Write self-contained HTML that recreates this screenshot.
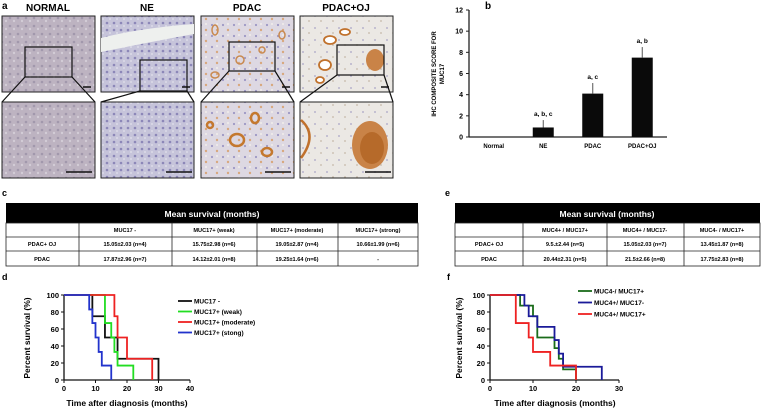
<!DOCTYPE html>
<html><head><meta charset="utf-8"><style>
body{margin:0;background:#fff;}
svg{display:block;font-family:"Liberation Sans",Arial,sans-serif;}
</style></head><body>
<svg width="762" height="413" viewBox="0 0 762 413" xmlns="http://www.w3.org/2000/svg">
<defs>
<pattern id="pN" width="8" height="8" patternUnits="userSpaceOnUse"><rect width="8" height="8" fill="#bdb3c1"/><circle cx="2" cy="2" r="1.3" fill="#a198ac"/><circle cx="6" cy="5" r="1.2" fill="#d3ccd6"/></pattern>
<pattern id="pNE" width="7" height="7" patternUnits="userSpaceOnUse"><rect width="7" height="7" fill="#c6c4da"/><circle cx="2" cy="2" r="1.3" fill="#8c87b8"/><circle cx="5" cy="5" r="1" fill="#dcdbe8"/></pattern>
<pattern id="pP" width="11" height="11" patternUnits="userSpaceOnUse"><rect width="11" height="11" fill="#ddd8e2"/><circle cx="3" cy="3" r="1.1" fill="#9d98c4"/><circle cx="8" cy="8" r="1.2" fill="#d8a87e"/><circle cx="8" cy="2" r="1" fill="#f2eeea"/></pattern>
<pattern id="pO" width="12" height="12" patternUnits="userSpaceOnUse"><rect width="12" height="12" fill="#ebe8e4"/><circle cx="3" cy="4" r="1" fill="#b7b3cc"/><circle cx="9" cy="9" r="0.9" fill="#c5b8a8"/></pattern>
</defs>

<!-- panel a -->
<g>
<text x="2" y="9" font-size="10" font-weight="bold">a</text>
<g font-size="10" font-weight="bold" text-anchor="middle">
<text x="48" y="11">NORMAL</text>
<text x="147" y="11">NE</text>
<text x="247" y="11">PDAC</text>
<text x="346" y="11">PDAC+OJ</text>
</g>
<rect x="2" y="16" width="93" height="76" fill="url(#pN)" stroke="#222"/>
<rect x="2" y="102" width="93" height="76" fill="url(#pN)" stroke="#222"/>
<rect x="101" y="16" width="93" height="76" fill="url(#pNE)" stroke="#222"/>
<path d="M101 38 Q140 28 194 24 L194 34 Q150 42 101 52Z" fill="#eef0ee"/>
<rect x="101" y="102" width="93" height="76" fill="url(#pNE)" stroke="#222"/>
<rect x="201" y="16" width="93" height="76" fill="url(#pP)" stroke="#222"/>
<g fill="none" stroke="#c98a50" stroke-width="1.5"><ellipse cx="215" cy="30" rx="3" ry="5"/><ellipse cx="240" cy="60" rx="4" ry="4"/><ellipse cx="262" cy="50" rx="3" ry="3"/><ellipse cx="282" cy="35" rx="3" ry="4"/><ellipse cx="215" cy="75" rx="4" ry="3"/></g>
<rect x="201" y="102" width="93" height="76" fill="url(#pP)" stroke="#222"/>
<g fill="none" stroke="#c4782e" stroke-width="2.5"><ellipse cx="237" cy="140" rx="7" ry="6"/><ellipse cx="267" cy="152" rx="5" ry="4"/><ellipse cx="255" cy="118" rx="4" ry="5"/><ellipse cx="210" cy="125" rx="3" ry="3"/></g>
<rect x="300" y="16" width="93" height="76" fill="url(#pO)" stroke="#222"/>
<g fill="#fff" stroke="#c0712c" stroke-width="1.8"><ellipse cx="330" cy="40" rx="6" ry="4"/><ellipse cx="325" cy="65" rx="6" ry="5"/><ellipse cx="345" cy="32" rx="5" ry="3"/><ellipse cx="320" cy="80" rx="4" ry="3"/></g>
<ellipse cx="375" cy="60" rx="9" ry="11" fill="#c98347"/>
<rect x="300" y="102" width="93" height="76" fill="url(#pO)" stroke="#222"/>
<ellipse cx="370" cy="145" rx="18" ry="24" fill="#c98347"/><ellipse cx="372" cy="148" rx="12" ry="16" fill="#b66a2a"/>
<path d="M301 120 Q318 135 301 158" fill="none" stroke="#c0712c" stroke-width="2.5"/>
<g fill="none" stroke="#111" stroke-width="1.2">
<rect x="25" y="47" width="47" height="30"/><line x1="25" y1="77" x2="2" y2="102"/><line x1="72" y1="77" x2="95" y2="102"/>
<rect x="140" y="60" width="47" height="31"/><line x1="140" y1="91" x2="101" y2="102"/><line x1="187" y1="91" x2="194" y2="102"/>
<rect x="229" y="42" width="46" height="29"/><line x1="229" y1="71" x2="201" y2="102"/><line x1="275" y1="71" x2="294" y2="102"/>
<rect x="337" y="45" width="47" height="30"/><line x1="337" y1="75" x2="300" y2="102"/><line x1="384" y1="75" x2="393" y2="102"/>
</g>
<g stroke="#111" stroke-width="1.5">
<line x1="83" y1="87" x2="91" y2="87"/><line x1="182" y1="87" x2="190" y2="87"/><line x1="282" y1="87" x2="290" y2="87"/><line x1="381" y1="87" x2="389" y2="87"/>
<line x1="66" y1="172" x2="92" y2="172"/><line x1="166" y1="172" x2="192" y2="172"/><line x1="265" y1="172" x2="291" y2="172"/><line x1="365" y1="172" x2="391" y2="172"/>
</g>
</g>

<!-- panel b -->
<g id="bar-chart">
<text x="485" y="9" font-size="10" font-weight="bold">b</text>
<g transform="translate(436,74) rotate(-90)" font-size="6" font-weight="bold" text-anchor="middle">
<text x="0" y="0">IHC COMPOSITE SCORE FOR</text><text x="0" y="8">MUC17</text></g>
<g id="b-axes"></g><g id="b-bars"></g>
</g>

<!-- table c -->
<g font-size="5.6" font-weight="bold" text-anchor="middle">
<text x="2" y="196" font-size="9" text-anchor="start">c</text>
<rect x="6" y="203" width="412" height="20" fill="#000"/>
<text x="212" y="217" fill="#fff" font-size="8.5">Mean survival (months)</text>
<g fill="none" stroke="#222" stroke-width="0.8"><rect x="6" y="223" width="412" height="43"/>
<line x1="6" y1="237" x2="418" y2="237"/><line x1="6" y1="251" x2="418" y2="251"/>
<line x1="79" y1="223" x2="79" y2="266"/><line x1="172" y1="223" x2="172" y2="266"/><line x1="257" y1="223" x2="257" y2="266"/><line x1="338" y1="223" x2="338" y2="266"/></g>
<text x="125" y="232">MUC17 -</text><text x="214" y="232">MUC17+ (weak)</text><text x="297" y="232">MUC17+ (moderate)</text><text x="378" y="232">MUC17+ (strong)</text>
<text x="42" y="246">PDAC+ OJ</text><text x="125" y="246">15.05±2.03 (n=4)</text><text x="214" y="246">15.75±2.98 (n=6)</text><text x="297" y="246">19.05±2.87 (n=4)</text><text x="378" y="246">10.66±1.99 (n=6)</text>
<text x="42" y="261">PDAC</text><text x="125" y="261">17.87±2.96 (n=7)</text><text x="214" y="261">14.12±2.01 (n=8)</text><text x="297" y="261">19.25±1.64 (n=6)</text><text x="378" y="261">-</text>
</g>

<!-- table e -->
<g font-size="5.6" font-weight="bold" text-anchor="middle">
<text x="445" y="196" font-size="9" text-anchor="start">e</text>
<rect x="455" y="203" width="305" height="20" fill="#000"/>
<text x="607" y="217" fill="#fff" font-size="8.5">Mean survival (months)</text>
<g fill="none" stroke="#222" stroke-width="0.8"><rect x="455" y="223" width="305" height="43"/>
<line x1="455" y1="237" x2="760" y2="237"/><line x1="455" y1="251" x2="760" y2="251"/>
<line x1="523" y1="223" x2="523" y2="266"/><line x1="607" y1="223" x2="607" y2="266"/><line x1="684" y1="223" x2="684" y2="266"/></g>
<text x="565" y="232">MUC4+ / MUC17+</text><text x="645" y="232">MUC4+ / MUC17-</text><text x="722" y="232">MUC4- / MUC17+</text>
<text x="489" y="246">PDAC+ OJ</text><text x="565" y="246">9.5.±2.44  (n=5)</text><text x="645" y="246">15.05±2.03 (n=7)</text><text x="722" y="246">13.45±1.87 (n=8)</text>
<text x="489" y="261">PDAC</text><text x="565" y="261">20.44±2.31 (n=5)</text><text x="645" y="261">21.5±2.66 (n=8)</text><text x="722" y="261">17.75±2.83 (n=8)</text>
</g>

<!-- panel d -->
<g>
<text x="2" y="280" font-size="9" font-weight="bold">d</text>
<text transform="translate(30,338) rotate(-90)" font-size="8.5" font-weight="bold" text-anchor="middle">Percent survival (%)</text>
<text x="127" y="406" font-size="8.5" font-weight="bold" text-anchor="middle">Time after diagnosis (months)</text>
<g id="d-plot"></g>
</g>
<!-- panel f -->
<g>
<text x="447" y="280" font-size="9" font-weight="bold">f</text>
<text transform="translate(462,338) rotate(-90)" font-size="8.5" font-weight="bold" text-anchor="middle">Percent survival (%)</text>
<text x="555" y="406" font-size="8.5" font-weight="bold" text-anchor="middle">Time after diagnosis (months)</text>
<g id="f-plot"></g>
</g>
</svg>
<script>
const NS="http://www.w3.org/2000/svg";
// bar chart data
const barCategories=["Normal","NE","PDAC","PDAC+OJ"];
const barValues=[0,0.9,4.1,7.5];
const barErrors=[0,0.7,1.0,1.0];
const barLetters=["","a, b, c","a, c","a, b"];
const barTicks=[0,2,4,6,8,10,12];
// survival d
const dNames=["MUC17 -","MUC17+ (weak)","MUC17+ (moderate)","MUC17+ (stong)"];
const dTimes=[[0,9,13,17,30],[0,13,15,16,17,22],[0,16,17,20,28],[0,8,9,10,11,12,15]];
const dSurv=[[100,75,50,25,0],[100,67,50,33,17,0],[100,75,50,25,0],[100,83,67,50,33,17,0]];
const dXTicks=[0,10,20,30,40];
// survival f
const fNames=["MUC4-/ MUC17+","MUC4+/ MUC17-","MUC4+/ MUC17+"];
const fTimes=[[0,7,10,11,15,16,17,20],[0,8,9,11,15,16,17,26],[0,6,9,10,14,20]];
const fSurv=[[100,87.5,75,50,37.5,25,12.5,0],[100,87.5,75,62.5,47,31,15.6,0],[100,67,50,33,17,0]];
const fXTicks=[0,10,20,30];
const yTicks=[0,20,40,60,80,100];

function el(tag,attrs,parent,text){const e=document.createElementNS(NS,tag);for(const k in attrs)e.setAttribute(k,attrs[k]);if(text!==undefined)e.textContent=text;parent.appendChild(e);return e;}

// bar chart
(function(){
 const ax=document.getElementById("b-axes"),bg=document.getElementById("b-bars");
 const x0=469,x1=667,y0=137,y1=10,max=12;
 const ys=v=>y0-(v/max)*(y0-y1);
 const band=(x1-x0)/barCategories.length;
 const xc=i=>x0+band*(i+0.5);
 el("line",{x1:x0,y1:y0,x2:x0,y2:y1,stroke:"#222","stroke-width":1.3},ax);
 el("line",{x1:x0,y1:y0,x2:x1,y2:y0,stroke:"#222","stroke-width":1.3},ax);
 barTicks.forEach(t=>{
  el("line",{x1:x0-3,y1:ys(t),x2:x0,y2:ys(t),stroke:"#222"},ax);
  const tx=el("text",{x:x0-6,y:ys(t)+2.5,"font-size":7,"text-anchor":"end","font-weight":"bold"},ax,t);
  
  
 });
 barCategories.forEach((c,i)=>{
  const t=el("text",{x:xc(i),y:y0+11,"font-size":6,"font-weight":"bold","text-anchor":"middle"},ax,c);
  
  
  const v=barValues[i];
  if(v>0){
   const r=el("rect",{x:xc(i)-10.5,y:ys(v),width:21,height:y0-ys(v),fill:"#0a0a0a"},bg);
   
   
   el("line",{x1:xc(i),y1:ys(v),x2:xc(i),y2:ys(v+barErrors[i]),stroke:"#555","stroke-width":1},bg);
  }
  if(barLetters[i]){
   const l=el("text",{x:xc(i),y:ys(v+barErrors[i])-4,"font-size":6.5,"font-weight":"bold","text-anchor":"middle"},bg,barLetters[i]);
   
   
  }
 });
})();

function survival(gid,ox,xEnd,xMax,xTicks,names,times,surv,colors,leg){
 const g=document.getElementById(gid);
 const y0=380,y1=295;
 const xs=t=>ox+t/xMax*(xEnd-ox), ys=v=>y0-v/100*(y0-y1);
 el("line",{x1:ox,y1:y0,x2:ox,y2:y1,stroke:"#111","stroke-width":1.3},g);
 el("line",{x1:ox,y1:y0,x2:xEnd,y2:y0,stroke:"#111","stroke-width":1.3},g);
 yTicks.forEach(t=>{el("line",{x1:ox-3,y1:ys(t),x2:ox,y2:ys(t),stroke:"#111"},g);
  const tx=el("text",{x:ox-5,y:ys(t)+3,"font-size":7.5,"font-weight":"bold","text-anchor":"end"},g,t);
  
  });
 xTicks.forEach(t=>{el("line",{x1:xs(t),y1:y0,x2:xs(t),y2:y0+3,stroke:"#111"},g);
  const tx=el("text",{x:xs(t),y:y0+11,"font-size":7.5,"font-weight":"bold","text-anchor":"middle"},g,t);
  
  });
 names.forEach((n,i)=>{
  let d="M"+xs(times[i][0])+" "+ys(surv[i][0]);
  for(let k=1;k<times[i].length;k++){d+=" H"+xs(times[i][k])+" V"+ys(surv[i][k]);}
  const p=el("path",{d:d,fill:"none",stroke:colors[i],"stroke-width":1.8},g);
  
  
  const ly=leg[1]+i*leg[2];
  const ll=el("line",{x1:leg[0],y1:ly,x2:leg[0]+14,y2:ly,stroke:colors[i],"stroke-width":1.8},g);
  
  
  const lt=el("text",{x:leg[0]+16,y:ly+2.5,"font-size":6.5,"font-weight":"bold"},g,n);
  
  
 });
}
survival("d-plot",64,190,40,dXTicks,dNames,dTimes,dSurv,["#111","#22dd22","#ee2222","#2233cc"],[178,301,10.5]);
survival("f-plot",490,619,30,fXTicks,fNames,fTimes,fSurv,["#1a6b1a","#1a1a99","#ee2222"],[578,291,11.5]);
</script>
</body></html>
